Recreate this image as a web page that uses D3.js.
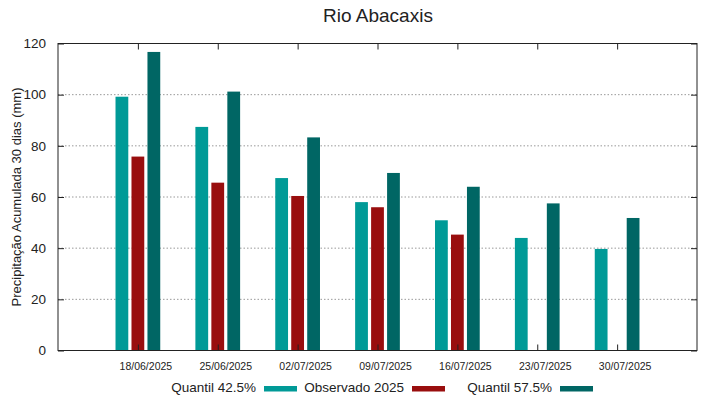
<!DOCTYPE html>
<html>
<head>
<meta charset="utf-8">
<script src="https://cdn.jsdelivr.net/npm/d3@7"></script>
<style>
  body { margin: 0; background: #fff; }
  text { font-family: "Liberation Sans", Arial, sans-serif; fill: #222; }
</style>
</head>
<body>
<div id="chart"></div>
<script>
var dates = ["18/06/2025", "25/06/2025", "02/07/2025", "09/07/2025", "16/07/2025", "23/07/2025", "30/07/2025"];
var q425 = [99.2, 87.4, 67.4, 58.0, 50.9, 44.0, 39.7];
var obs2025 = [75.8, 65.6, 60.4, 56.0, 45.3, null, null];
var q575 = [116.7, 101.2, 83.3, 69.4, 64.0, 57.5, 51.8];
var yTicks = [0, 20, 40, 60, 80, 100, 120];

var seriesNames = ["Quantil 42.5%", "Observado 2025", "Quantil 57.5%"];
var seriesColors = ["#009a97", "#990e0e", "#006664"];
var seriesData = [q425, obs2025, q575];
var offsets = [-0.2, 0, 0.2];
var barW = 0.16;

var width = 719, height = 399;
var mLeft = 58, mRight = 697, mTop = 43.5, mBottom = 350.5;

var svg = d3.select("#chart").append("svg")
  .attr("width", width).attr("height", height);

// x: index 0..8, categories sit at 1..7
var x = d3.scaleLinear().domain([0, dates.length + 1]).range([mLeft, mRight]);
var y = d3.scaleLinear().domain([0, 120]).range([mBottom, mTop]);

// grid lines
svg.append("g").selectAll("line")
  .data(yTicks.filter(function(d) { return d > 0 && d < 120; }))
  .enter().append("line")
  .attr("x1", mLeft).attr("x2", mRight)
  .attr("y1", function(d) { return y(d); })
  .attr("y2", function(d) { return y(d); })
  .style("stroke", "#999")
  .style("stroke-width", 1)
  .style("stroke-dasharray", "1.5,2");

// bars
seriesData.forEach(function(vals, s) {
  svg.append("g").selectAll("rect")
    .data(vals.map(function(v, i) { return { i: i, v: v }; }).filter(function(d) { return d.v != null; }))
    .enter().append("rect")
    .attr("x", function(d) { return x(d.i + 1 + offsets[s] - barW / 2); })
    .attr("width", x(barW) - x(0))
    .attr("y", function(d) { return y(d.v); })
    .attr("height", function(d) { return y(0) - y(d.v); })
    .style("fill", seriesColors[s]);
});

// axes with inward ticks (mirrored)
var yAxis = d3.axisLeft(y).tickValues(yTicks).tickSize(-6).tickPadding(12);
var yAxisR = d3.axisRight(y).tickValues(yTicks).tickSize(-6).tickFormat("");
var xVals = d3.range(1, dates.length + 1);
var xAxis = d3.axisBottom(x).tickValues(xVals).tickSize(-6).tickPadding(12)
  .tickFormat(function(d) { return dates[d - 1]; });
var xAxisT = d3.axisTop(x).tickValues(xVals).tickSize(-6).tickFormat("");

var gy = svg.append("g").attr("transform", "translate(" + mLeft + ",0)").call(yAxis);
var gyr = svg.append("g").attr("transform", "translate(" + mRight + ",0)").call(yAxisR);
var gx = svg.append("g").attr("transform", "translate(0," + mBottom + ")").call(xAxis);
var gxt = svg.append("g").attr("transform", "translate(0," + mTop + ")").call(xAxisT);

[gy, gyr, gx, gxt].forEach(function(g) {
  g.select(".domain").remove();
  g.selectAll("line").style("stroke", "#222");
});
gy.selectAll("text").style("font-size", "13.5px").style("fill", "#222")
  .style("font-family", "'Liberation Sans', Arial, sans-serif");
gx.selectAll("text").style("font-size", "10.5px").style("fill", "#222")
  .style("font-family", "'Liberation Sans', Arial, sans-serif")
  .attr("dx", 7.5);

// border
svg.append("rect")
  .attr("x", mLeft).attr("y", mTop)
  .attr("width", mRight - mLeft).attr("height", mBottom - mTop)
  .style("fill", "none").style("stroke", "#222").style("stroke-width", 1);

// title
svg.append("text")
  .attr("x", 378).attr("y", 22)
  .attr("text-anchor", "middle")
  .style("font-size", "19px")
  .text("Rio Abacaxis");

// y label
svg.append("text")
  .attr("transform", "translate(21," + ((mTop + mBottom) / 2) + ") rotate(-90)")
  .attr("text-anchor", "middle")
  .style("font-size", "13px")
  .text("Precipitação Acumulada 30 dias (mm)");

// legend
var legendX = [256, 404, 552];
seriesNames.forEach(function(name, s) {
  svg.append("text")
    .attr("x", legendX[s]).attr("y", 392)
    .attr("text-anchor", "end")
    .style("font-size", "13.5px")
    .text(name);
  svg.append("rect")
    .attr("x", legendX[s] + 8).attr("y", 386)
    .attr("width", 33).attr("height", 5.5)
    .style("fill", seriesColors[s]);
});
</script>
</body>
</html>
